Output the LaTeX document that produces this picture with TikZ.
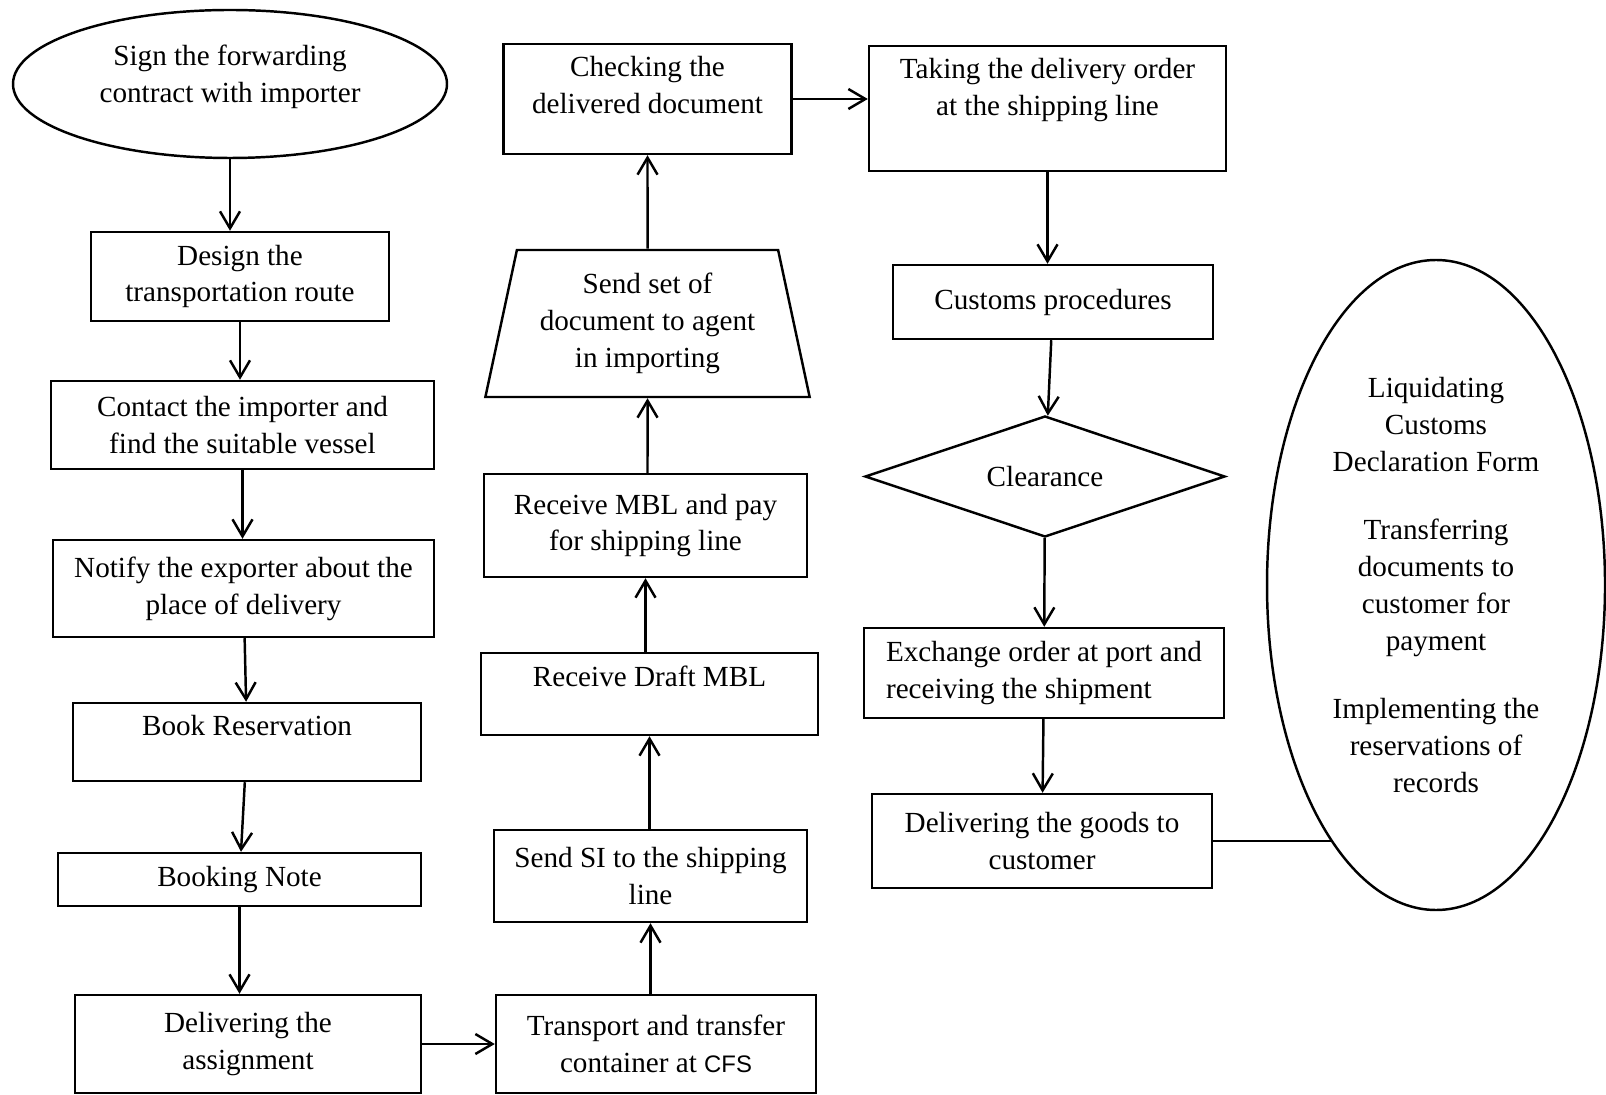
\documentclass[tikz,border=0pt]{standalone}
\usepackage{fontspec}
\setmainfont{Liberation Serif}
\setsansfont{Liberation Sans}
\usetikzlibrary{shapes.geometric,arrows.meta}

\begin{document}
\begin{tikzpicture}[x=1cm,y=1cm,line width=0.7pt,
	font=\fontsize{8.3}{10.5}\selectfont,
	>={Straight Barb[length=1.7mm,width=2mm]}]

% page frame
\useasboundingbox (0,0) rectangle (16.06,-10.95);

% node style definition
\tikzstyle{block} = [draw, rectangle, align=center, inner sep=2pt];
\tikzstyle{oval} = [draw, ellipse, align=center, inner sep=0pt];
\tikzstyle{trap} = [draw, trapezium, trapezium angle=76,
	trapezium stretches=true, align=center, inner sep=1pt];
\tikzstyle{rhomb} = [draw, diamond, aspect=3, inner sep=0pt];
\tikzstyle{toptext} = [align=center, anchor=north, yshift=-0.01cm];

% left column
\node[oval, minimum width=4.34cm, minimum height=1.48cm,
	label={[align=center,yshift=0.07cm]center:Sign the forwarding\\contract with importer}] (sign) at (2.30,-0.84) {};
\node[block, minimum width=2.98cm, minimum height=0.89cm] (route) at (2.40,-2.765) {Design the\\transportation route};
\node[block, minimum width=3.83cm, minimum height=0.88cm] (vessel) at (2.425,-4.25) {Contact the importer and\\find the suitable vessel};
\node[block, minimum width=3.81cm, minimum height=0.97cm] (notify) at (2.435,-5.885) {Notify the exporter about the\\place of delivery};
\node[block, minimum width=3.48cm, minimum height=0.78cm,
	label={[toptext]north:Book Reservation}] (book) at (2.47,-7.42) {};
\node[block, minimum width=3.63cm, minimum height=0.53cm] (note) at (2.395,-8.795) {Booking Note};
\node[block, minimum width=3.46cm, minimum height=0.98cm] (assign) at (2.48,-10.44) {Delivering the\\assignment};

% middle column
\node[block, minimum width=3.20cm, minimum height=0.98cm] (cfs) at (6.56,-10.44) {Transport and transfer\\container at {\sffamily\fontsize{6.8}{8}\selectfont CFS}};
\node[block, minimum width=3.13cm, minimum height=0.92cm] (si) at (6.505,-8.76) {Send SI to the shipping\\line};
\node[block, minimum width=3.37cm, minimum height=0.82cm,
	label={[toptext]north:Receive Draft MBL}] (draft) at (6.495,-6.94) {};
\node[block, minimum width=3.23cm, minimum height=1.03cm] (mbl) at (6.455,-5.255) {Receive MBL and pay\\for shipping line};
\node[trap, minimum width=3.25cm, minimum height=1.47cm] (agent) at (6.475,-3.235) {Send set of\\document to agent\\in importing};
\node[block, minimum width=2.88cm, minimum height=1.10cm,
	label={[toptext]north:Checking the\\delivered document}] (check) at (6.475,-0.99) {};

% right column
\node[block, minimum width=3.57cm, minimum height=1.25cm,
	label={[toptext]north:Taking the delivery order\\at the shipping line}] (order) at (10.475,-1.085) {};
\node[block, minimum width=3.20cm, minimum height=0.74cm] (customs) at (10.53,-3.02) {Customs procedures};
\node[rhomb, minimum width=3.60cm, minimum height=1.21cm] (clear) at (10.45,-4.765) {Clearance};
\node[block, align=left, minimum width=3.60cm, minimum height=0.90cm] (port) at (10.44,-6.73) {Exchange order at port and\\receiving the shipment};
\node[block, minimum width=3.40cm, minimum height=0.94cm] (goods) at (10.42,-8.41) {Delivering the goods to\\customer};

\node[oval, minimum width=3.38cm, minimum height=6.50cm] (final) at (14.36,-5.85) {Liquidating\\Customs\\Declaration Form\\[9pt]Transferring\\documents to\\customer for\\payment\\[9pt]Implementing the\\reservations of\\records};
\coordinate (touch) at (13.33,-8.41);

% connectors
\draw[->] (sign.south) -- (sign.south |- route.north);
\draw[->] (route.south) -- (route.south |- vessel.north);
\draw[->] (vessel.south) -- (vessel.south |- notify.north);
\draw[->] (notify) -- (book);
\draw[->] (book) -- (note);
\draw[->] (note.south) -- (note.south |- assign.north);
\draw[->] (assign.east) -- (assign.east -| cfs.west);

\draw[->] (cfs.north -| si) -- (si.south);
\draw[->] (si.north -| draft) -- (draft.south);
\draw[->] (draft.north -| mbl) -- (mbl.south);
\draw[->] (mbl.north -| agent) -- (agent.south);
\draw[->] (agent) -- (check);
\draw[->] (check.east) -- (check.east -| order.west);

\draw[->] (order.south) -- (order.south |- customs.north);
\draw[->] (customs) -- (clear);
\draw[->] (clear) -- (port);
\draw[->] (port) -- (goods);
\draw (goods.east) -- (touch);

\end{tikzpicture}
\end{document}
